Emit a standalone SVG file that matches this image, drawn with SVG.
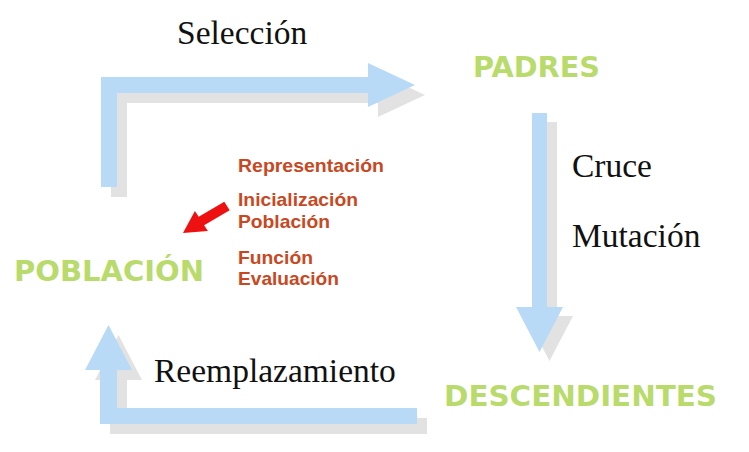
<svg xmlns="http://www.w3.org/2000/svg" width="749" height="452" viewBox="0 0 749 452">
<style>
.shadow{fill:#e2e2e2}
.flow{fill:#b8daf6}
.serif{font-family:"Liberation Serif","Times New Roman",serif;font-size:33.5px;fill:#111}
.stage{font-family:"DejaVu Sans",Verdana,sans-serif;font-weight:bold;font-size:27.5px;fill:#b8db6c}
.note{font-family:"Liberation Sans",Arial,sans-serif;font-weight:bold;font-size:18.5px;fill:#c8481f}
</style>
<rect width="749" height="452" fill="#ffffff"/>
<g id="connectors">
  <g id="sel-arrow">
    <polygon class="shadow" transform="translate(10,10)" points="101,187 101,77 368,77 368,63 415,85 368,107 368,93 117,93 117,187"/>
    <polygon class="flow" points="101,187 101,77 368,77 368,63 415,85 368,107 368,93 117,93 117,187"/>
  </g>
  <g id="cruce-arrow">
    <polygon class="shadow" transform="translate(10,9)" points="532,113 547,113 547,307 563,307 539.5,352 516,307 532,307"/>
    <polygon class="flow" points="532,113 547,113 547,307 563,307 539.5,352 516,307 532,307"/>
  </g>
  <g id="reemp-arrow">
    <polygon class="shadow" transform="translate(10,10)" points="100,424 100,370 85,370 108.5,325 132,370 117,370 117,408 417,408 417,424"/>
    <polygon class="flow" points="100,424 100,370 85,370 108.5,325 132,370 117,370 117,408 417,408 417,424"/>
  </g>
  <polygon id="init-arrow" fill="#ee1111" points="224.3,201.8 198.7,216.8 194.9,210.9 183,233 207.9,231.1 204.1,225.2 229.7,210.2"/>
</g>
<g id="label-seleccion"><text class="serif" x="177" y="43.5">Selección</text></g>
<g id="label-cruce"><text class="serif" x="572" y="177">Cruce</text></g>
<g id="label-mutacion"><text class="serif" x="572" y="247">Mutación</text></g>
<g id="label-reemplazamiento"><text class="serif" x="154" y="382">Reemplazamiento</text></g>
<g id="node-padres"><text class="stage" x="473" y="77" textLength="127" lengthAdjust="spacingAndGlyphs">PADRES</text></g>
<g id="node-poblacion"><text class="stage" x="14" y="281" textLength="190" lengthAdjust="spacingAndGlyphs">POBLACIÓN</text></g>
<g id="node-descendientes"><text class="stage" x="444" y="406" textLength="273" lengthAdjust="spacingAndGlyphs">DESCENDIENTES</text></g>
<g id="node-init">
  <text class="note" x="238" y="172" textLength="146" lengthAdjust="spacingAndGlyphs">Representación</text>
  <text class="note" x="238" y="206" textLength="120" lengthAdjust="spacingAndGlyphs">Inicialización</text>
  <text class="note" x="238" y="228" textLength="92" lengthAdjust="spacingAndGlyphs">Población</text>
  <text class="note" x="238" y="264" textLength="75" lengthAdjust="spacingAndGlyphs">Función</text>
  <text class="note" x="238" y="285" textLength="101" lengthAdjust="spacingAndGlyphs">Evaluación</text>
</g>
</svg>
